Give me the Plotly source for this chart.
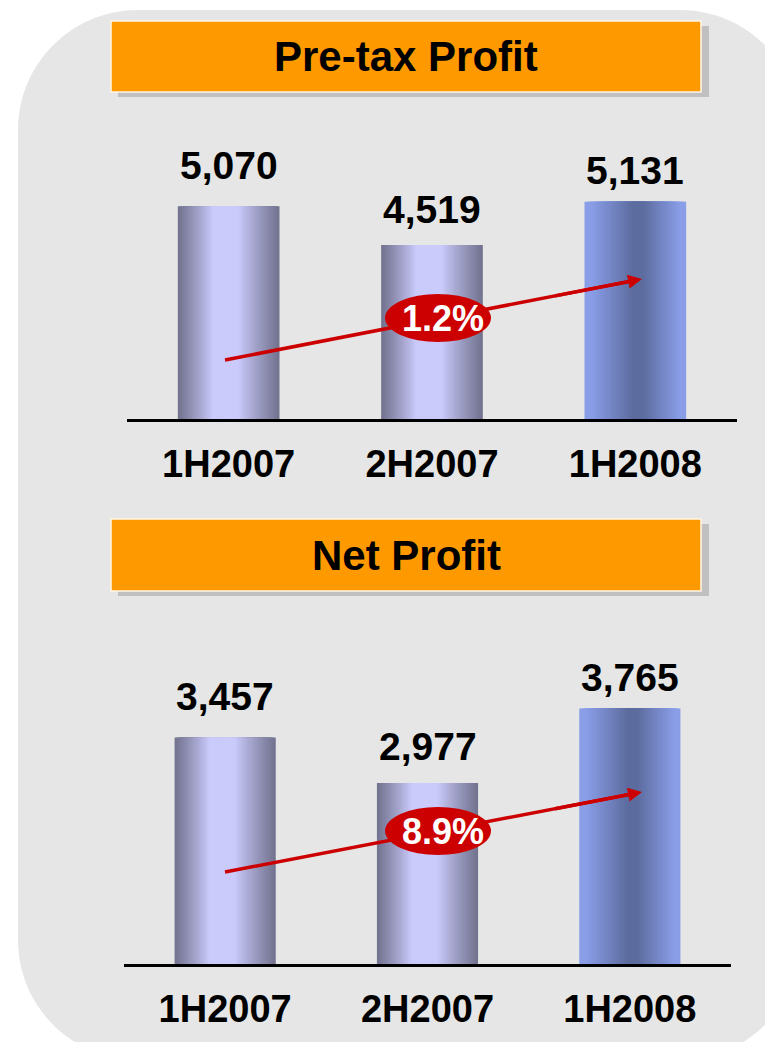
import math
import plotly.graph_objects as go

# data
categories = ["1H2007", "2H2007", "1H2008"]
pretax_profit = [5070, 4519, 5131]
net_profit = [3457, 2977, 3765]
pretax_growth = "1.2%"
net_growth = "8.9%"
chart_titles = ["Pre-tax Profit", "Net Profit"]

W, H = 773, 1042
OFF = 8  # page body margin the figure sits in
FONT = "Liberation Sans, Arial, sans-serif"


def px(x):
    return (x - OFF) / W


def py(y):
    return 1 - (y - OFF) / H


def mix(c1, c2, t):
    t = max(0.0, min(1.0, t))
    return "#%02x%02x%02x" % tuple(round(a + (b - a) * t) for a, b in zip(c1, c2))


# bar shading (cylinder look) - silver bars for 2007, blue for 2008
SILVER_EDGE, SILVER_PEAK = (0x73, 0x74, 0x90), (0xca, 0xca, 0xfb)
BLUE_EDGE, BLUE_CORE = (0x8a, 0x9e, 0xe8), (0x5d, 0x6c, 0x9f)
BAR_W = 0.5
N_LAYERS = 24


def silver(s):
    return mix(SILVER_PEAK, SILVER_EDGE, ((s - 0.28) / 0.72) ** 0.9 if s > 0.28 else 0)


def blue(s):
    return mix(BLUE_CORE, BLUE_EDGE, (s - 0.12) / 0.78 if s > 0.12 else 0)


fig = go.Figure()


def add_bars(values, xa, ya):
    peaks = [0.46, 0.46, 0.53]
    for k in range(N_LAYERS):
        s = 1 - k / N_LAYERS
        offsets = [-BAR_W / 2 + BAR_W * p * (1 - s) for p in peaks]
        colors = [silver(s), silver(s), blue(s)]
        fig.add_trace(go.Bar(
            x=categories, y=values,
            width=[BAR_W * s] * 3, offset=offsets,
            marker=dict(color=colors, line=dict(width=0)),
            xaxis=xa, yaxis=ya, hoverinfo="skip", showlegend=False,
        ))
    lift = [41, 36, 31]
    for i, (c, v) in enumerate(zip(categories, values)):
        fig.add_annotation(
            x=c, y=v, xref=xa, yref=ya, text=f"{v:,}", showarrow=False,
            yshift=lift[i], font=dict(family=FONT, size=39, color="black", weight="bold"),
        )


add_bars(pretax_profit, "x", "y")
add_bars(net_profit, "x2", "y2")

shapes = []
annotations = []

# grey rounded panel
L, T, R, B, r = 18, 10, 800, 1060, 120
k = 0.5523 * r
path = (
    f"M {px(L)},{py(T + r)} "
    f"C {px(L)},{py(T + r - k)} {px(L + r - k)},{py(T)} {px(L + r)},{py(T)} "
    f"L {px(R - r)},{py(T)} "
    f"C {px(R - r + k)},{py(T)} {px(R)},{py(T + r - k)} {px(R)},{py(T + r)} "
    f"L {px(R)},{py(B - r)} "
    f"C {px(R)},{py(B - r + k)} {px(R - r + k)},{py(B)} {px(R - r)},{py(B)} "
    f"L {px(L + r)},{py(B)} "
    f"C {px(L + r - k)},{py(B)} {px(L)},{py(B - r + k)} {px(L)},{py(B - r)} Z"
)
shapes.append(dict(type="path", path=path, xref="paper", yref="paper",
                   fillcolor="#e5e6e5", line=dict(width=0), layer="below"))

# orange title boxes with shadow
for title, (top, bottom) in zip(chart_titles, [(21, 92), (519, 591)]):
    shapes.append(dict(type="rect", xref="paper", yref="paper",
                       x0=px(118), x1=px(709), y0=py(top + 5), y1=py(bottom + 5),
                       fillcolor="#c0c0c0", line=dict(width=0), layer="below"))
    shapes.append(dict(type="rect", xref="paper", yref="paper",
                       x0=px(111), x1=px(701), y0=py(top), y1=py(bottom),
                       fillcolor="#ff9900", line=dict(color="#fff6e6", width=1.5), layer="below"))
    annotations.append(dict(x=px(406), y=py((top + bottom) / 2), xref="paper", yref="paper",
                            text=title, showarrow=False, xanchor="center", yanchor="middle",
                            font=dict(family=FONT, size=42, color="black", weight="bold")))

# growth arrows with red ellipse labels
for label, start, tip, centre in [
    (pretax_growth, (225, 360), (642, 279), (438, 318)),
    (net_growth, (225, 872), (642, 792), (438, 831)),
]:
    dx, dy = tip[0] - start[0], tip[1] - start[1]
    n = math.hypot(dx, dy)
    ux, uy = dx / n, dy / n
    shapes.append(dict(type="line", xref="paper", yref="paper",
                       x0=px(start[0]), y0=py(start[1]),
                       x1=px(tip[0] - 10 * ux), y1=py(tip[1] - 10 * uy),
                       line=dict(color="#cc0000", width=3.5), layer="above"))
    shapes.append(dict(type="circle", xref="paper", yref="paper",
                       x0=px(centre[0] - 53), x1=px(centre[0] + 53),
                       y0=py(centre[1] - 24), y1=py(centre[1] + 24),
                       fillcolor="#cc0000", line=dict(width=0), layer="above"))
    annotations.append(dict(x=px(tip[0]), y=py(tip[1]), xref="paper", yref="paper",
                            ax=-90 * ux, ay=-90 * uy, axref="pixel", ayref="pixel",
                            text="", showarrow=True, arrowhead=2, arrowsize=0.8,
                            arrowwidth=3.5, arrowcolor="#cc0000", standoff=0))
    annotations.append(dict(x=px(centre[0] + 5), y=py(centre[1]), xref="paper", yref="paper",
                            text=label, showarrow=False, xanchor="center", yanchor="middle",
                            font=dict(family=FONT, size=36, color="white", weight="bold")))

xaxis_style = dict(type="category", showline=True, linecolor="black", linewidth=2.5,
                   showgrid=False, zeroline=False, ticks="", ticklabelstandoff=10,
                   tickfont=dict(family=FONT, size=38, color="black", weight="bold"),
                   fixedrange=True)
yaxis_style = dict(visible=False, showgrid=False, zeroline=False, fixedrange=True)

fig.update_layout(
    width=W, height=H, autosize=False,
    margin=dict(l=0, r=0, t=0, b=0),
    paper_bgcolor="white", plot_bgcolor="rgba(0,0,0,0)",
    barmode="overlay", showlegend=False,
    xaxis=dict(xaxis_style, domain=[px(127), px(737)], anchor="y"),
    yaxis=dict(yaxis_style, domain=[py(419), py(130)], range=[2051, 2051 + (419 - 130) / 0.0705], anchor="x"),
    xaxis2=dict(xaxis_style, domain=[px(124), px(731)], anchor="y2"),
    yaxis2=dict(yaxis_style, domain=[py(964), py(640)], range=[1061, 1061 + (964 - 640) / 0.0945], anchor="x2"),
    shapes=shapes,
)
for a in annotations:
    fig.add_annotation(a)

fig.write_html("out.html")
